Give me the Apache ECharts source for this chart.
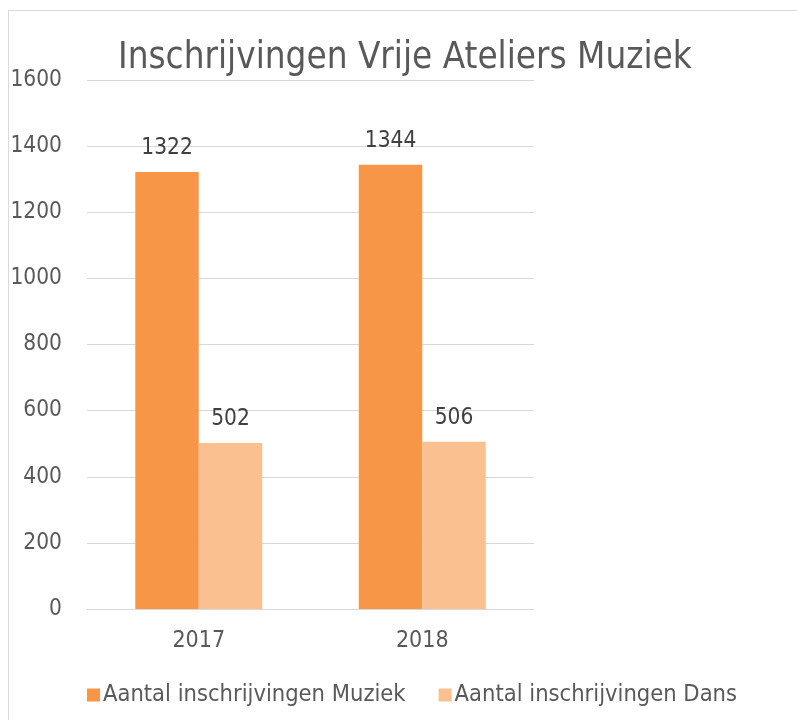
<!DOCTYPE html>
<html>
<head>
<meta charset="utf-8">
<script src="https://cdn.jsdelivr.net/npm/echarts@6/dist/echarts.min.js"></script>
<style>
  html, body { margin: 0; padding: 0; background: #fff; overflow: hidden; }
  #frame { position: absolute; left: 8px; top: 10px; width: 820px; height: 740px; border: 1px solid #d9d9d9; }
  #chart { position: absolute; left: 0; top: 0; width: 797px; height: 720px; }
</style>
</head>
<body>
<div id="frame"></div>
<div id="chart"></div>
<script>
const years = ['2017', '2018'];
const muziek = [1322, 1344];
const dans = [502, 506];
const seriesNames = ['Aantal inschrijvingen Muziek', 'Aantal inschrijvingen Dans'];
const titleText = 'Inschrijvingen Vrije Ateliers Muziek';

const FONT = '"DejaVu Sans Condensed", "DejaVu Sans", sans-serif';

const chart = echarts.init(document.getElementById('chart'), null, { renderer: 'canvas' });

const barLabel = {
  show: true,
  position: 'top',
  distance: 12,
  color: '#404040',
  fontSize: 22.5,
  fontFamily: FONT
};

chart.setOption({
  backgroundColor: 'transparent',
  animation: false,
  textStyle: { fontFamily: FONT },
  title: {
    text: titleText,
    left: 113,
    top: 35,
    textStyle: { color: '#595959', fontSize: 36.5, fontWeight: 'normal', fontFamily: FONT }
  },
  legend: {
    left: 82,
    top: 678,
    itemWidth: 13,
    itemHeight: 13,
    itemGap: 33,
    icon: 'rect',
    textStyle: { color: '#595959', fontSize: 23.5, fontFamily: FONT, padding: [0, 0, 0, -2] },
    data: seriesNames
  },
  grid: { left: 87, right: 263, top: 80, bottom: 111, containLabel: false },
  xAxis: {
    type: 'category',
    data: years,
    axisLine: { lineStyle: { color: '#d9d9d9', width: 1 } },
    axisTick: { show: false },
    axisLabel: { color: '#595959', fontSize: 23, margin: 21, fontFamily: FONT }
  },
  yAxis: {
    type: 'value',
    min: 0,
    max: 1600,
    interval: 200,
    axisLine: { show: false },
    axisTick: { show: false },
    axisLabel: { color: '#595959', fontSize: 22.5, margin: 25, fontFamily: FONT, formatter: (v) => String(v) },
    splitLine: { lineStyle: { color: '#d9d9d9', width: 1 } }
  },
  series: [
    {
      name: seriesNames[0],
      type: 'bar',
      data: muziek,
      barWidth: '28.4%',
      barGap: '0%',
      itemStyle: { color: '#f79646' },
      label: barLabel
    },
    {
      name: seriesNames[1],
      type: 'bar',
      data: dans,
      barWidth: '28.4%',
      barGap: '0%',
      itemStyle: { color: '#fac090' },
      label: barLabel
    }
  ]
});
</script>
</body>
</html>
